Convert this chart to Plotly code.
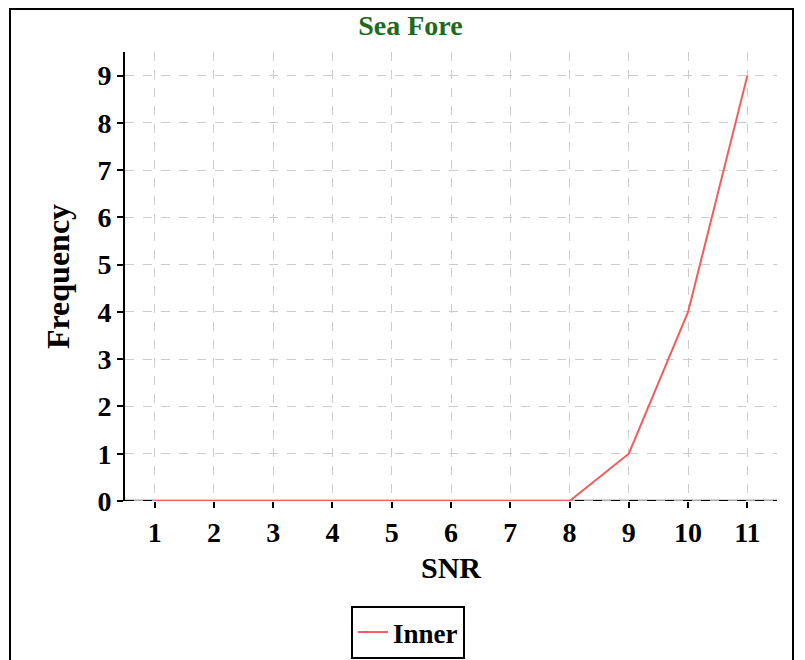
import plotly.graph_objects as go

snr = [1, 2, 3, 4, 5, 6, 7, 8, 9, 10, 11]
freq = [0, 0, 0, 0, 0, 0, 0, 0, 1, 4, 9]
series_name = "Inner"
title = "Sea Fore"
x_title = "SNR"
y_title = "Frequency"
y_ticks = list(range(10))

FONT = "Liberation Serif"

L, T, R, B = 117, 44, 36, 167
PW = 805 - L - R
PH = 660 - T - B

fig = go.Figure()
fig.add_trace(go.Scatter(x=snr, y=freq, mode="lines", name=series_name,
                         line=dict(color="#f25c5c", width=2)))

fig.update_layout(
    width=805, height=660,
    margin=dict(l=L, r=R, t=T, b=B, autoexpand=False),
    paper_bgcolor="white", plot_bgcolor="white",
    font=dict(family=FONT, color="black", size=26),
    title=dict(text=f"<b>{title}</b>", x=0.5, xanchor="center", y=1 - 17 / 660, yanchor="middle",
               font=dict(family=FONT, size=28, color="#1e6b1e")),
    showlegend=True,
    legend=dict(orientation="h", x=(400 - L) / PW, xanchor="center", y=(T + PH - 598) / PH, yanchor="top",
                bordercolor="black", borderwidth=2,
                font=dict(family=FONT, size=27, weight="bold")),
    xaxis=dict(range=[0.5, 11.5], tickmode="array", tickvals=snr,
               ticktext=[f"<b>{v}</b>" for v in snr], automargin=False,
               tickfont=dict(size=28), ticks="outside", ticklen=6, tickcolor="black", tickwidth=2,
               showgrid=True, gridcolor="#cccccc", griddash="dash", gridwidth=1,
               showline=False, zeroline=False,
               title=dict(text=f"<b>{x_title}</b>", font=dict(size=30), standoff=10)),
    yaxis=dict(range=[0, 9.5], tickmode="array", tickvals=y_ticks,
               ticktext=[f"<b>{v}</b>" for v in y_ticks], automargin=False,
               tickfont=dict(size=28), ticks="outside", ticklen=6, tickcolor="black", tickwidth=2,
               showgrid=True, gridcolor="#cccccc", griddash="dash", gridwidth=1,
               showline=True, linecolor="black", linewidth=2, zeroline=False,
               title=dict(text=f"<b>{y_title}</b>", font=dict(size=32), standoff=18)),
    shapes=[
        dict(type="line", xref="paper", yref="y", x0=0, x1=1, y0=0, y1=0,
             line=dict(color="#aaaaaa", width=3), layer="below"),
        dict(type="line", xref="paper", yref="y", x0=0, x1=1, y0=0, y1=0,
             line=dict(color="black", width=2, dash="dash"), layer="below"),
        dict(type="rect", xref="paper", yref="paper",
             x0=(2 - L) / PW, x1=(785 - L) / PW,
             y0=(T + PH - 700) / PH, y1=(T + PH - 1) / PH,
             line=dict(color="black", width=2)),
    ],
)

fig.write_html("out.html")
